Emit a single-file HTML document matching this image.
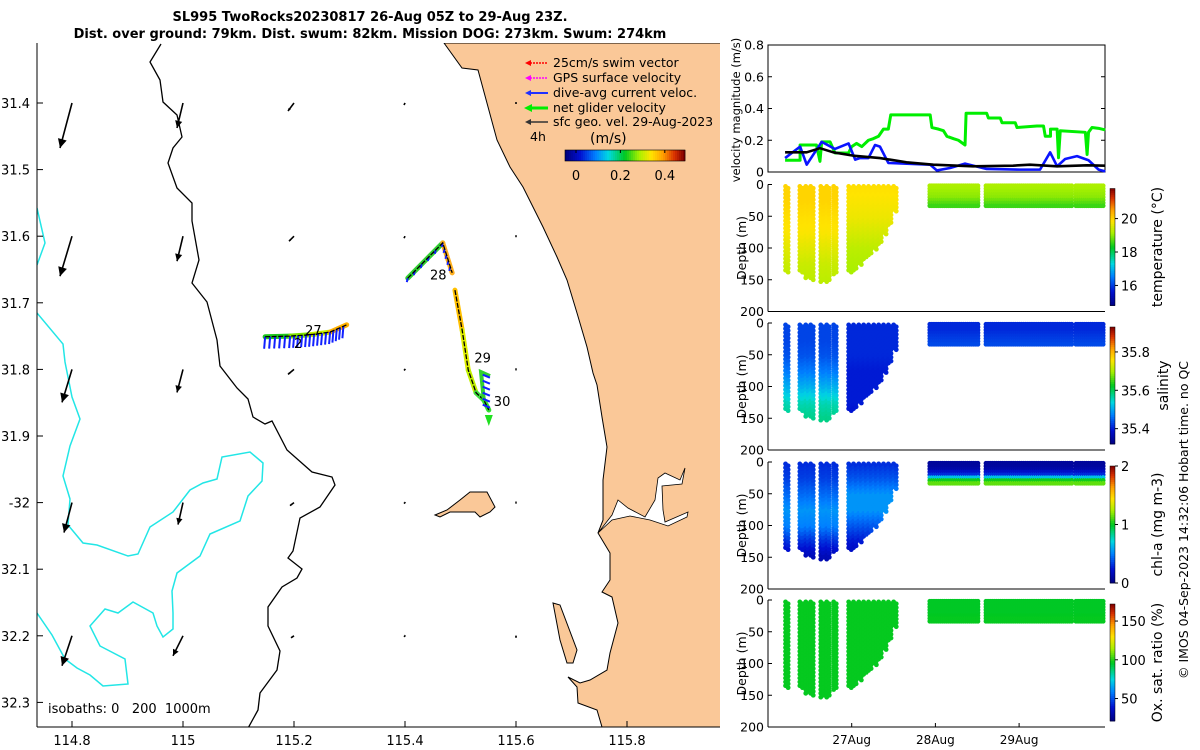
<!DOCTYPE html>
<html><head><meta charset="utf-8"><style>
html,body{margin:0;padding:0;background:#fff}
svg{display:block;font-family:"DejaVu Sans","Liberation Sans",sans-serif}
</style></head><body>
<svg id="fig" width="1200" height="750" viewBox="0 0 1200 750" xmlns="http://www.w3.org/2000/svg">
<rect width="1200" height="750" fill="#fff"/>
<text x="370" y="21" font-size="13" font-weight="bold" text-anchor="middle">SL995 TwoRocks20230817 26-Aug 05Z to 29-Aug 23Z.</text>
<text x="370" y="38" font-size="13" font-weight="bold" text-anchor="middle">Dist. over ground: 79km. Dist. swum: 82km. Mission DOG: 273km. Swum: 274km</text>
<g id="map">
 <clipPath id="mapclip"><rect x="37" y="43" width="683" height="684"/></clipPath>
 <g clip-path="url(#mapclip)">
  <polygon fill="#fac898" stroke="#000" stroke-width="1" points="444,43 462,68 478,70 497,140 510,167 523,187 543,227 557,257 567,280 577,313 587,347 593,373 597,385 602,417 607,447 603,480 603,520 598,533 610,553 610,580 602,592 612,597 618,623 610,653 607,670 590,680 580,683 568,677 577,687 578,703 597,710 602,727 730,727 730,43"/>
  <polygon fill="#fff" stroke="#000" stroke-width="0.8" points="598,533 612,515 618,500 628,508 645,517 655,500 658,478 665,473 680,480 685,468 682,484 662,486 663,510 665,522 688,512 687,517 668,526 650,520 630,516 612,520"/>
  <polygon fill="#fac898" stroke="#000" stroke-width="1" points="435,515 447,510 460,500 470,492 487,492 495,507 490,512 480,517 475,512 450,512 440,517"/>
  <polygon fill="#fac898" stroke="#000" stroke-width="1" points="553,603 560,605 577,650 573,663 567,663 560,640"/>
  <polyline fill="none" stroke="#000" stroke-width="1.3" points="161,44 150,62 160,80 163,102 177,115 182,137 173,148 168,163 177,188 192,203 192,221 199,260 192,283 207,302 217,340 220,366 237,388 248,399 253,417 265,424 272,421 287,450 312,472 332,477 335,485 320,507 300,518 293,551 288,558 302,569 297,578 282,587 268,607 268,626 280,651 277,670 260,693 258,710 247,730"/>
  <polyline fill="none" stroke="#22e6e6" stroke-width="1.5" points="37,208 45,243 37,265"/>
  <polyline fill="none" stroke="#22e6e6" stroke-width="1.5" points="37,313 63,344 65,362 72,397 80,419 70,446 63,476 70,499 68,525 83,543 97,545 128,556 138,554 150,527 173,512 190,490 203,483 217,479 222,457 250,452 263,463 262,481 248,496 240,521 210,534 200,556 177,573 172,591 173,613 173,629 163,637 157,626 153,613 133,602 118,613 105,609 90,626 100,646 125,659 128,684 103,686 90,675 77,668 65,659 52,635 37,613"/>
  <g id="geo"></g>
  <g id="track"></g>
 </g>
 <line x1="37" y1="43" x2="37" y2="727" stroke="#000"/>
 <line x1="37" y1="727" x2="720" y2="727" stroke="#000"/>
 <g id="maptk" font-size="13"></g>
 <text x="48" y="713" font-size="13" style="white-space:pre" xml:space="preserve">isobaths: 0   200  1000m</text>
 <g font-size="12.5">
  <g><line x1="527" y1="63" x2="548" y2="63" stroke="#ff0000" stroke-dasharray="2 1" stroke-width="1.5"/><polygon points="525,63 531,60 531,66" fill="#f00"/><text x="553" y="67">25cm/s swim vector</text></g>
  <g><line x1="527" y1="78" x2="548" y2="78" stroke="#ff00ff" stroke-dasharray="2 1" stroke-width="1.5"/><polygon points="525,78 531,75 531,81" fill="#f0f"/><text x="553" y="82">GPS surface velocity</text></g>
  <g><line x1="527" y1="93" x2="548" y2="93" stroke="#2030ff" stroke-width="2"/><polygon points="525,93 531,90 531,96" fill="#2030ff"/><text x="553" y="97">dive-avg current veloc.</text></g>
  <g><line x1="527" y1="108" x2="548" y2="108" stroke="#00ee00" stroke-width="3"/><polygon points="524,108 532,104 532,112" fill="#0e0"/><text x="553" y="112">net glider velocity</text></g>
  <g><line x1="527" y1="122" x2="548" y2="122" stroke="#333" stroke-width="1.5"/><polygon points="525,122 531,119 531,125" fill="#333"/><text x="553" y="126">sfc geo. vel. 29-Aug-2023</text></g>
  <text x="530" y="141">4h</text>
  <text x="590" y="143" font-size="14">(m/s)</text>
  <g id="mapcb"></g>
 </g>
</g>
<g id="right" font-size="12.5"></g>
<text transform="translate(1188,520) rotate(-90)" text-anchor="middle" font-size="12.5">© IMOS 04-Sep-2023 14:32:06 Hobart time. no QC</text>
</svg>
<script>
// ---------- map data ----------
const geoLons = [114.8, 115.0, 115.2, 115.4, 115.6];
const geoLats = [31.4, 31.6, 31.8, 32.0, 32.2];
const geoU = [[-0.12,-0.06,-0.06,-0.01,0],[-0.12,-0.06,-0.05,-0.01,0],[-0.10,-0.06,-0.06,-0.01,0],[-0.08,-0.05,-0.04,-0.01,0],[-0.10,-0.10,-0.03,-0.01,0]];
const geoV = [[-0.45,-0.25,-0.08,-0.02,-0.01],[-0.40,-0.25,-0.05,-0.02,-0.01],[-0.33,-0.23,-0.05,-0.01,-0.01],[-0.30,-0.22,-0.03,-0.01,-0.01],[-0.30,-0.20,-0.02,-0.01,-0.02]];
const trackLon1 = [115.148,115.193,115.229,115.265,115.295];
const trackLat1 = [31.751,31.750,31.748,31.744,31.733];
const trackLon2 = [115.405,115.468,115.485];
const trackLat2 = [31.663,31.610,31.655];
const trackLon3 = [115.490,115.503,115.514,115.528,115.542,115.551];
const trackLat3 = [31.681,31.741,31.801,31.835,31.846,31.861];
const lonTicks = [114.8,115,115.2,115.4,115.6,115.8];
const lonTickLabels = ["114.8","115","115.2","115.4","115.6","115.8"];
const latTicks = [31.4,31.5,31.6,31.7,31.8,31.9,32.0,32.1,32.2,32.3];
const latTickLabels = ["31.4","31.5","31.6","31.7","31.8","31.9","-32","32.1","32.2","32.3"];
// ---------- time series data (hours since 26-Aug 00Z) ----------
const greenH = [4.9,9.2,9.2,13.9,14.9,15.4,17.8,19.2,23.1,24.0,25.4,26.9,28.8,30.2,31.7,33.1,34.5,35.2,46.5,47.0,48.9,50.3,51.3,53.2,54.6,56.5,56.8,62.7,63.2,66.6,67.1,70.9,71.4,77.1,79.0,79.5,81.0,81.0,82.9,83.3,83.8,91.0,91.5,91.9,92.9,94.8,96.7];
const greenV = [0.074,0.074,0.17,0.17,0.067,0.19,0.19,0.12,0.12,0.16,0.18,0.16,0.20,0.21,0.225,0.27,0.27,0.36,0.36,0.28,0.27,0.26,0.225,0.21,0.20,0.17,0.37,0.37,0.34,0.34,0.31,0.31,0.28,0.29,0.29,0.225,0.225,0.27,0.27,0.09,0.26,0.25,0.11,0.25,0.28,0.275,0.265];
const blueH = [4.9,9.2,11.1,15.4,19.2,23.1,25.0,26.4,28.8,30.7,32.1,34.5,46.5,48.4,52.2,56.5,62.7,72.3,78.0,80.9,82.9,85.2,88.6,91.9,94.8,96.7];
const blueV = [0.088,0.16,0.046,0.19,0.145,0.18,0.078,0.088,0.088,0.17,0.16,0.057,0.046,0.01,0.025,0.053,0.019,0.015,0.015,0.124,0.036,0.082,0.10,0.074,0.015,0.004];
const blackH = [4.9,11.1,14.9,18.7,24.4,32.1,39.7,47.4,58.8,70.3,75.1,82.9,91.5,96.7];
const blackV = [0.124,0.124,0.15,0.124,0.103,0.088,0.061,0.046,0.036,0.04,0.046,0.036,0.042,0.04];
const castH = [5.4,9.5,11.2,12.6,15.5,17.2,19.2,23.5,24.9,26.4,27.8,29.2,30.7,32.1,33.5,34.9,36.4];
const castMaxD = [140,140,148,152,156,154,143,140,138,127,119,112,104,93,80,64,44];
const segStart = [46.4,62.5,88.3];
const segEnd = [60.8,87.2,96.6];
const depthStopsDeep = [0,25,50,75,100,125,150];
const depthStopsShallow = [0,10,20,30,40];
const tempA = [20.0,20.0,19.9,19.8,19.6,19.4,19.3];
const tempB = [19.9,19.8,19.7,19.5,19.3,19.2,19.1];
const tempC = [19.2,19.1,19.0,18.7,18.4];
const salA = [35.43,35.43,35.44,35.47,35.51,35.56,35.58];
const salB = [35.41,35.41,35.41,35.40,35.40,35.40,35.39];
const salC = [35.41,35.41,35.42,35.43,35.44];
const chlA = [0.3,0.35,0.45,0.55,0.5,0.3,0.15];
const chlB = [0.3,0.4,0.55,0.55,0.4,0.25,0.15];
const chlC = [0.08,0.1,0.3,1.1,1.2];
const oxyA = [97,97,97,97,97,97,97];
const oxyB = [97,97,97,97,97,97,97];
const oxyC = [96,96,96,97,97];
const velTicks = [0,0.2,0.4,0.6,0.8];
const velTickLabels = ["0","0.2","0.4","0.6","0.8"];
const depthTicks = [0,50,100,150,200];
const dateTicksH = [24,48,72];
const dateTickLabels = ["27Aug","28Aug","29Aug"];
const speedCbTicks = [0,0.2,0.4];
const speedCbLabels = ["0","0.2","0.4"];

const NS="http://www.w3.org/2000/svg";
function mk(tag, attrs, parent){const e=document.createElementNS(NS,tag);for(const k in attrs)e.setAttribute(k,attrs[k]);parent.appendChild(e);return e;}
const cmapStops=[[0,[0,0,127]],[0.12,[0,16,208]],[0.25,[0,128,255]],[0.36,[0,216,224]],[0.5,[0,200,32]],[0.62,[168,240,0]],[0.72,[255,228,0]],[0.82,[255,160,0]],[0.92,[216,48,0]],[1,[128,0,0]]];
function cmap(t){t=Math.max(0,Math.min(1,t));for(let i=1;i<cmapStops.length;i++){if(t<=cmapStops[i][0]){const a=cmapStops[i-1],b=cmapStops[i];const f=(t-a[0])/(b[0]-a[0]);const c=a[1].map((v,j)=>Math.round(v+(b[1][j]-v)*f));return `rgb(${c[0]},${c[1]},${c[2]})`;}}return 'rgb(128,0,0)';}
function interp(stops,vals,d){if(d<=stops[0])return vals[0];for(let i=1;i<stops.length;i++){if(d<=stops[i]){const f=(d-stops[i-1])/(stops[i]-stops[i-1]);return vals[i-1]+(vals[i]-vals[i-1])*f;}}return vals[vals.length-1];}

const lonX = lon => 72 + (lon-114.8)*555;
const latY = lat => 103 + (lat-31.4)*666;
const geo=document.getElementById('geo');
for(let r=0;r<geoLats.length;r++){for(let c=0;c<geoLons.length;c++){
  const x0=lonX(geoLons[c]),y0=latY(geoLats[r]);
  const dx=geoU[r][c]*100, dy=-geoV[r][c]*100;
  const L=Math.hypot(dx,dy)||1; const ux=dx/L, uy=dy/L;
  const hs=Math.max(2,Math.min(9,L*0.28));
  const g=mk('g',{},geo);
  
  
  const x1=x0+dx,y1=y0+dy;
  mk('line',{x1:x0,y1:y0,x2:x1,y2:y1,stroke:'#000','stroke-width':1.6},g);
  mk('polygon',{points:`${x1},${y1} ${x1-ux*hs-uy*hs*0.5},${y1-uy*hs+ux*hs*0.5} ${x1-ux*hs+uy*hs*0.5},${y1-uy*hs-ux*hs*0.5}`,fill:'#000'},g);
}}
const track=document.getElementById('track');
function drawTrack(lons,lats,cols,name,arrows,labels){
  const g=mk('g',{},track);
  
  
  for(let i=1;i<lons.length;i++){
    mk('line',{x1:lonX(lons[i-1]),y1:latY(lats[i-1]),x2:lonX(lons[i]),y2:latY(lats[i]),stroke:cols[i-1],'stroke-width':5,'stroke-linecap':'round'},g);
  }
  if(arrows){for(let i=0;i<lons.length-1;i++){for(let k=0;k<5;k++){const f=k/5;const x=lonX(lons[i]+(lons[i+1]-lons[i])*f),y=latY(lats[i]+(lats[i+1]-lats[i])*f);
    mk('line',{x1:x,y1:y,x2:x-1,y2:y+arrows,stroke:'#1020ff','stroke-width':2},g);}}}
  mk('polyline',{points:lons.map((l,i)=>lonX(l)+','+latY(lats[i])).join(' '),fill:'none',stroke:'#000','stroke-width':1.3,'stroke-dasharray':'5 1.5'},g);
  for(const lb of labels){const t=mk('text',{x:lonX(lb[0]),y:latY(lb[1]),'font-size':13},g);t.textContent=lb[2];
    
    }
}
drawTrack(trackLon1,trackLat1,['#1ec81e','#7ee000','#c8f000','#ffb000'],'track-segment-1',12,[[115.22,31.748,'27'],[115.2,31.768,'2']]);
drawTrack(trackLon2,trackLat2,['#30d030','#ffb020'],'track-segment-2',4,[[115.445,31.665,'28']]);
drawTrack(trackLon3,trackLat3,['#ffc000','#e0f000','#c0f000','#40e040','#30e030'],'track-segment-3',0,[[115.525,31.79,'29'],[115.56,31.855,'30']]);
{const g=mk('g',{},track);
 
 
 mk('polyline',{points:`${lonX(115.542)},${latY(31.846)} ${lonX(115.537)},${latY(31.804)} ${lonX(115.553)},${latY(31.81)}`,fill:'none',stroke:'#30d030','stroke-width':4},g);
 for(let k=0;k<6;k++){const y=latY(31.808+k*0.009);mk('line',{x1:lonX(115.54),y1:y,x2:lonX(115.553),y2:y+3,stroke:'#1020ff','stroke-width':2},g);}
 const xe=lonX(115.551),ye=latY(31.861);
 mk('polygon',{points:`${xe-4},${ye+5} ${xe+4},${ye+5} ${xe},${ye+16}`,fill:'#20e020'},g);}
const mt=document.getElementById('maptk');
lonTicks.forEach((v,i)=>{const x=lonX(v);mk('line',{x1:x,y1:727,x2:x,y2:721,stroke:'#000'},mt);
  const t=mk('text',{x:x,y:745,'text-anchor':'middle'},mt);t.textContent=lonTickLabels[i];
  
  });
latTicks.forEach((v,i)=>{const y=latY(v);mk('line',{x1:37,y1:y,x2:43,y2:y,stroke:'#000'},mt);
  const t=mk('text',{x:30,y:y+5,'text-anchor':'end'},mt);t.textContent=latTickLabels[i];
  
  });
const cb=document.getElementById('mapcb');
const cbX=v=>576+v*222;
for(let i=0;i<60;i++){const x=565+i*2;mk('rect',{x:x,y:150,width:2.3,height:11,fill:cmap(i/59)},cb);}
mk('rect',{x:565,y:150,width:120,height:11,fill:'none',stroke:'#000','stroke-width':0.6},cb);
speedCbTicks.forEach((v,i)=>{mk('line',{x1:cbX(v),y1:150,x2:cbX(v),y2:153,stroke:'#000'},cb);
  const t=mk('text',{x:cbX(v),y:180,'text-anchor':'middle','font-size':13},cb);t.textContent=speedCbLabels[i];});

const R=document.getElementById('right');
const hX=h=>768+h*3.4875;
const vY=v=>172-v*158.75;
{const g=mk('g',{},R);
 
 
 mk('rect',{x:768,y:45,width:337,height:127,fill:'none',stroke:'#000'},g);
 velTicks.forEach((v,i)=>{const y=vY(v);mk('line',{x1:768,y1:y,x2:772,y2:y,stroke:'#000'},g);mk('line',{x1:1101,y1:y,x2:1105,y2:y,stroke:'#000'},g);
   const t=mk('text',{x:764,y:y+4.5,'text-anchor':'end'},g);t.textContent=velTickLabels[i];
   
   });
 const yl=mk('text',{transform:'translate(740,110) rotate(-90)','text-anchor':'middle','font-size':11.5},g);yl.textContent='velocity magnitude (m/s)';
 
 
 const series=[[greenH,greenV,'#00ee00',3,'net-glider-velocity-line'],[blueH,blueV,'#0a14ff',2.6,'dive-avg-velocity-line'],[blackH,blackV,'#000',2.6,'geo-velocity-line']];
 for(const s of series){const p=mk('polyline',{points:s[0].map((h,i)=>hX(h)+','+vY(s[1][i])).join(' '),fill:'none',stroke:s[2],'stroke-width':s[3],'stroke-linejoin':'round'},g);
   
   }
}
const panels=[
 {top:184.5,name:'temperature',A:tempA,B:tempB,C:tempC,min:14.8,max:21.8,ticks:[16,18,20],labels:['16','18','20'],title:'temperature (°C)'},
 {top:323,name:'salinity',A:salA,B:salB,C:salC,min:35.32,max:35.93,ticks:[35.4,35.6,35.8],labels:['35.4','35.6','35.8'],title:'salinity'},
 {top:462,name:'chlorophyll',A:chlA,B:chlB,C:chlC,min:0,max:2,ticks:[0,1,2],labels:['0','1','2'],title:'chl-a (mg m-3)'},
 {top:600,name:'oxygen',A:oxyA,B:oxyB,C:oxyC,min:21,max:172,ticks:[50,100,150],labels:['50','100','150'],title:'Ox. sat. ratio (%)'}];
panels.forEach((P,pi)=>{
  const g=mk('g',{},R);
  
  
  const dY=d=>P.top+d*0.635;
  const col=v=>cmap((v-P.min)/(P.max-P.min));
  const dots=mk('g',{},g);
  castH.forEach((h,ci)=>{const vals=h<21?P.A:P.B;
    for(const off of [-1.3,1.3]){
    for(let d=3;d<=castMaxD[ci]-(off<0?0:4);d+=6){mk('circle',{cx:hX(h)+off,cy:dY(d+(off<0?0:3)),r:2.4,fill:col(interp(depthStopsDeep,vals,d))},dots);}}
    });
  segStart.forEach((s,si)=>{for(let h=s;h<=segEnd[si];h+=0.6){
    for(let d=2;d<=37;d+=4.5){mk('circle',{cx:hX(h),cy:dY(d),r:2.4,fill:col(interp(depthStopsShallow,P.C,d))},dots);}}});
  mk('line',{x1:768,y1:P.top,x2:768,y2:dY(200),stroke:'#000'},g);
  mk('line',{x1:768,y1:dY(200),x2:1105,y2:dY(200),stroke:'#000'},g);
  depthTicks.forEach(d=>{const y=dY(d);mk('line',{x1:768,y1:y,x2:772,y2:y,stroke:'#000'},g);
    const t=mk('text',{x:764,y:y+4.5,'text-anchor':'end'},g);t.textContent=String(d);
    
    });
  const yl=mk('text',{transform:`translate(746,${dY(100)}) rotate(-90)`,'text-anchor':'middle','font-size':12.5},g);yl.textContent='Depth (m)';
  
  
  const cbTop=P.top+4, cbH=117;
  const cbv=v=>cbTop+cbH-(v-P.min)/(P.max-P.min)*cbH;
  const cg=mk('g',{},g);
  
  
  for(let i=0;i<60;i++){mk('rect',{x:1110,y:cbTop+cbH-(i+1)*cbH/60,width:5,height:cbH/60+0.4,fill:cmap((i+0.5)/60)},cg);}
  mk('rect',{x:1110,y:cbTop,width:5,height:cbH,fill:'none',stroke:'#000','stroke-width':0.5},cg);
  P.ticks.forEach((v,i)=>{const y=cbv(v);mk('line',{x1:1115,y1:y,x2:1118,y2:y,stroke:'#000'},cg);
    const t=mk('text',{x:1121,y:y+5,'font-size':13},cg);t.textContent=P.labels[i];});
  const ct=mk('text',{transform:`translate(${pi==1?1168:1162},${cbTop+cbH/2}) rotate(-90)`,'text-anchor':'middle','font-size':14},cg);ct.textContent=P.title;
  
  
  if(pi==3){dateTicksH.forEach((h,i)=>{mk('line',{x1:hX(h),y1:727,x2:hX(h),y2:723,stroke:'#000'},g);
    const t=mk('text',{x:hX(h),y:744,'text-anchor':'middle','font-size':12},g);t.textContent=dateTickLabels[i];
    
    });}
});
</script>
</body></html>
